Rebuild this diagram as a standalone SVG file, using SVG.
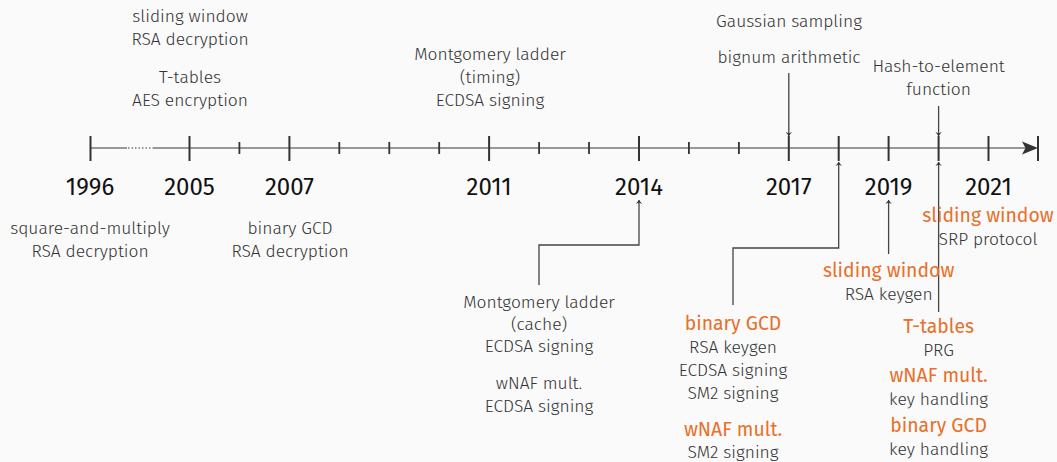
<svg xmlns="http://www.w3.org/2000/svg" width="1057" height="462" viewBox="0 0 1057 462">
<defs>
<style>
text{font-family:"Fira Sans","Roboto","Open Sans",sans-serif;text-anchor:middle}
.t{font-size:17.4px;font-weight:300;fill:#333}
.o{font-size:19.4px;font-weight:400;fill:#e8702a}
.y{font-size:24px;font-weight:400;fill:#111}
.axis{stroke:#777;stroke-width:1.6;fill:none}
.maj{stroke:#333;stroke-width:2}
.min{stroke:#333;stroke-width:1.8}
.c{stroke:#444;stroke-width:1.3;fill:none;marker-end:url(#ah)}
</style>
<marker id="ah" markerUnits="userSpaceOnUse" viewBox="-5 -5 6 10" refX="0" refY="0" markerWidth="6" markerHeight="10" orient="auto">
<path d="M0,0 L-4,-3.2 L-2.6,0 L-4,3.2 Z" fill="#333"/>
</marker>
</defs>
<rect width="1057" height="462" fill="#fafafa"/>
<g id="axis">
<line class="axis" x1="90.5" y1="148" x2="127" y2="148"/>
<line class="axis" x1="128" y1="148" x2="153" y2="148" stroke-dasharray="1.5 2"/>
<line class="axis" x1="153" y1="148" x2="1026" y2="148"/>
<path d="M1038,148 L1022,141.5 L1025.5,148 L1022,154.5 Z" fill="#333"/>
<line class="maj" x1="1038" y1="136" x2="1038" y2="161"/>
<g class="maj">
<line x1="90.5" y1="136" x2="90.5" y2="161"/>
<line x1="189.5" y1="136" x2="189.5" y2="161"/>
<line x1="289.4" y1="136" x2="289.4" y2="161"/>
<line x1="489.1" y1="136" x2="489.1" y2="161"/>
<line x1="639" y1="136" x2="639" y2="161"/>
<line x1="788.8" y1="136" x2="788.8" y2="161"/>
<line x1="838.7" y1="136" x2="838.7" y2="161"/>
<line x1="888.6" y1="136" x2="888.6" y2="161"/>
<line x1="938.6" y1="136" x2="938.6" y2="161"/>
<line x1="988.5" y1="136" x2="988.5" y2="161"/>
</g>
<g class="min">
<line x1="239.4" y1="142" x2="239.4" y2="154"/>
<line x1="339.3" y1="142" x2="339.3" y2="154"/>
<line x1="389.3" y1="142" x2="389.3" y2="154"/>
<line x1="439.2" y1="142" x2="439.2" y2="154"/>
<line x1="539.1" y1="142" x2="539.1" y2="154"/>
<line x1="589" y1="142" x2="589" y2="154"/>
<line x1="688.9" y1="142" x2="688.9" y2="154"/>
<line x1="738.9" y1="142" x2="738.9" y2="154"/>
</g>
<g class="y">
<text x="90" y="195">1996</text>
<text x="189.5" y="195">2005</text>
<text x="289.4" y="195">2007</text>
<text x="489.1" y="195">2011</text>
<text x="639" y="195">2014</text>
<text x="788.8" y="195">2017</text>
<text x="888.6" y="195">2019</text>
<text x="988.5" y="195">2021</text>
</g>
</g>
<g id="connectors">
<path class="c" d="M788.8,73 V136"/>
<path class="c" d="M938.6,106 V136"/>
<path class="c" d="M938.6,312 V162"/>
<path class="c" d="M733,305 V248 H838.7 V162"/>
<path class="c" d="M888.6,254 V200"/>
<path class="c" d="M539,285 V245 H639 V200"/>
</g>
<g id="n-sliding-rsa-dec">
<text class="t" x="190" y="22">sliding window</text>
<text class="t" x="190" y="45">RSA decryption</text>
</g>
<g id="n-ttables-aes">
<text class="t" x="190" y="83">T-tables</text>
<text class="t" x="190" y="106">AES encryption</text>
</g>
<g id="n-square-multiply">
<text class="t" x="90" y="234">square-and-multiply</text>
<text class="t" x="90" y="257">RSA decryption</text>
</g>
<g id="n-binary-gcd-rsa">
<text class="t" x="290" y="234">binary GCD</text>
<text class="t" x="290" y="257">RSA decryption</text>
</g>
<g id="n-montgomery-timing">
<text class="t" x="490" y="60">Montgomery ladder</text>
<text class="t" x="490" y="83">(timing)</text>
<text class="t" x="490" y="106">ECDSA signing</text>
</g>
<g id="n-gaussian">
<text class="t" x="789" y="27">Gaussian sampling</text>
</g>
<g id="n-bignum">
<text class="t" x="789" y="63">bignum arithmetic</text>
</g>
<g id="n-hash-to-element">
<text class="t" x="938.6" y="72">Hash-to-element</text>
<text class="t" x="938.6" y="95">function</text>
</g>
<g id="n-montgomery-cache">
<text class="t" x="539" y="308">Montgomery ladder</text>
<text class="t" x="539" y="330">(cache)</text>
<text class="t" x="539" y="352">ECDSA signing</text>
</g>
<g id="n-wnaf-ecdsa">
<text class="t" x="539" y="389">wNAF mult.</text>
<text class="t" x="539" y="412">ECDSA signing</text>
</g>
<g id="n-2018">
<text class="o" x="733" y="330">binary GCD</text>
<text class="t" x="733" y="353">RSA keygen</text>
<text class="t" x="733" y="376">ECDSA signing</text>
<text class="t" x="733" y="399">SM2 signing</text>
<text class="o" x="733" y="436">wNAF mult.</text>
<text class="t" x="733" y="458">SM2 signing</text>
</g>
<g id="n-2019">
<text class="o" x="888.6" y="277">sliding window</text>
<text class="t" x="888.6" y="300">RSA keygen</text>
</g>
<g id="n-2021">
<text class="o" x="988" y="222">sliding window</text>
<text class="t" x="988" y="245">SRP protocol</text>
</g>
<g id="n-2020-bottom">
<text class="o" x="938.6" y="333">T-tables</text>
<text class="t" x="938.6" y="356">PRG</text>
<text class="o" x="938.6" y="382">wNAF mult.</text>
<text class="t" x="938.6" y="405">key handling</text>
<text class="o" x="938.6" y="432">binary GCD</text>
<text class="t" x="938.6" y="455">key handling</text>
</g>
</svg>
